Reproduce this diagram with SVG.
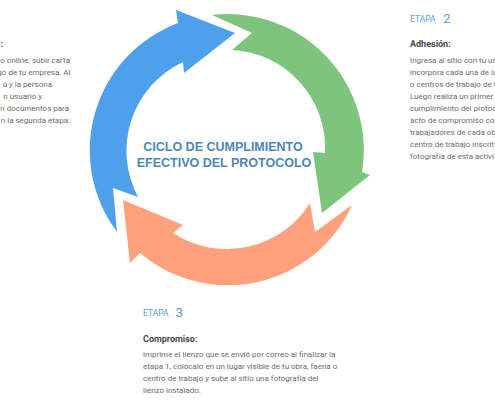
<svg xmlns="http://www.w3.org/2000/svg" width="495" height="400" viewBox="0 0 495 400">
<style>
.body{font-family:Roboto,"Liberation Sans",sans-serif;font-size:8px;fill:#6b6b6b}
.head{font-family:Roboto,"Liberation Sans",sans-serif;font-size:9px;font-weight:bold;fill:#474747}
.etapa{font-family:Roboto,"Liberation Sans",sans-serif;font-size:8.5px;fill:#5e9fdc}
.num{font-family:Roboto,"Liberation Sans",sans-serif;font-size:13.5px;fill:#5e9fdc}
.title{font-family:"Liberation Sans",Arial,sans-serif;font-size:12.5px;font-weight:bold;fill:#4c87b5;text-anchor:middle}
</style>
<rect width="495" height="400" fill="#ffffff"/>
<g id="cycle">
  <g id="arrow-blue">
    <path d="M117,232 L113,188 L138,197 A98,98 0 0 1 183,62 L184,73 L235,33 L176,10 L178,23 A136,136 0 0 0 117,232 Z" fill="#4ea0ec"/>
  </g>
  <g id="arrow-green">
    <path d="M212,15 L252,33 L232,50 A98,98 0 0 1 325,153 L313,152 L322,213 L370,175 L362,172 A136,136 0 0 0 212,15 Z" fill="#7dc57c"/>
  </g>
  <g id="arrow-orange">
    <path d="M352,205 L315,232 L310,203 A98,98 0 0 1 173,233 L183,225 L123,200 L130,263 L140,253 A136,136 0 0 0 352,205 Z" fill="#ffa17c"/>
  </g>
  <g id="title">
    <text class="title" x="223" y="151">CICLO DE CUMPLIMIENTO</text>
    <text class="title" x="224" y="166.5">EFECTIVO DEL PROTOCOLO</text>
  </g>
</g>
<g id="etapa1" text-anchor="end">
  <text class="head" x="3" y="47">:</text>
  <text class="body" x="70" y="63">o online, subir carta</text>
  <text class="body" x="70.5" y="75">go de tu empresa. Al</text>
  <text class="body" x="52" y="87">ú y la persona</text>
  <text class="body" x="42" y="99">n usuario y</text>
  <text class="body" x="69" y="110.5">n documentos para</text>
  <text class="body" x="70" y="122.5">n la segunda etapa:</text>
</g>
<g id="etapa2">
  <text class="etapa" x="410" y="22">ETAPA</text>
  <text class="num" x="443" y="22.5">2</text>
  <text class="head" x="410" y="47">Adhesión:</text>
  <text class="body" x="410" y="63">Ingresa al sitio con tu us</text>
  <text class="body" x="410" y="75">incorpora cada una de la</text>
  <text class="body" x="410" y="87">o centros de trabajo de t</text>
  <text class="body" x="410" y="99">Luego realiza un primer</text>
  <text class="body" x="410" y="110.5">cumplimiento del protoc</text>
  <text class="body" x="410" y="122.5">acto de compromiso con</text>
  <text class="body" x="410" y="134.5">trabajadores de cada ob</text>
  <text class="body" x="410" y="146.5">centro de trabajo inscrit</text>
  <text class="body" x="410" y="158.5">fotografía de esta activi</text>
</g>
<g id="etapa3">
  <text class="etapa" x="143" y="316">ETAPA</text>
  <text class="num" x="175.5" y="316.5">3</text>
  <text class="head" x="143" y="342">Compromiso:</text>
  <text class="body" x="143" y="357">imprime el lienzo que se envió por correo al finalizar la</text>
  <text class="body" x="143" y="369">etapa 1, colócalo en un lugar visible de tu obra, faena o</text>
  <text class="body" x="143" y="381">centro de trabajo y sube al sitio una fotografía del</text>
  <text class="body" x="143" y="393">lienzo instalado.</text>
</g>
</svg>
